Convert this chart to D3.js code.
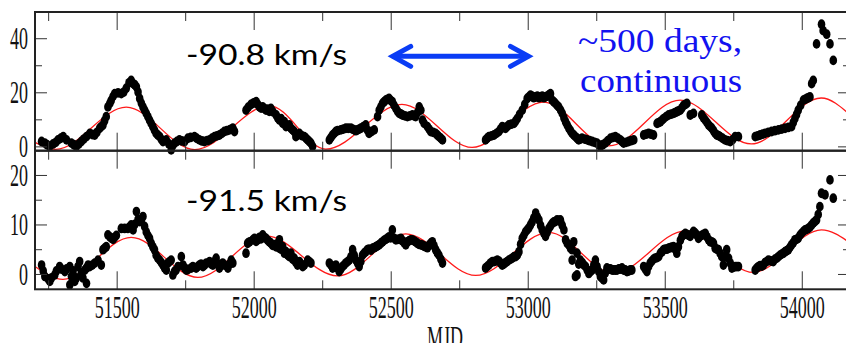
<!DOCTYPE html>
<html>
<head>
<meta charset="utf-8">
<script src="https://cdn.jsdelivr.net/npm/d3@7"></script>
<style>
  body { margin: 0; background: #fff; }
  svg { display: block; }
  .serif { font-family: "Liberation Serif", "Times New Roman", serif; }
</style>
</head>
<body>
<svg id="chart" width="846" height="343"></svg>
<script>
// tick values
var xMajor = [51500, 52000, 52500, 53000, 53500, 54000];
var xMinor = [51250, 51750, 52250, 52750, 53250, 53750];
var topMajor = [0, 20, 40], topMinor = [10, 30];
var botMajor = [0, 10, 20], botMinor = [5, 15];

// observed points [MJD, flux] for the -90.8 km/s feature
var topPoints = [
  [51226,1.8],[51238,1.2],[51256,0.0],[51268,0.9],[51286,2.4],[51305,3.6],[51317,2.4],[51335,1.2],[51353,0.0],[51371,1.8],
  [51390,3.6],[51402,4.8],[51420,4.2],[51438,6.7],[51450,7.9],[51462,11.0],[51468,14.6],[51475,15.9],[51493,19.5],[51517,19.5],
  [51526,20.1],[51553,24.4],[51560,23.2],[51572,22.0],[51578,20.1],[51584,17.7],[51596,14.6],[51608,12.2],[51620,9.7],[51632,7.3],
  [51644,4.8],[51657,3.6],[51669,1.8],[51681,2.4],[51699,-1.3],[51711,1.2],[51729,2.4],[51748,1.8],[51760,3.0],[51784,3.6],
  [51802,2.4],[51820,1.8],[51839,2.4],[51857,3.6],[51875,4.2],[51893,5.5],[51912,6.1],[51924,6.7],[51930,5.5],[51972,13.4],
  [51997,15.9],[52009,16.5],[52021,14.6],[52033,14.6],[52045,13.4],[52063,14.0],[52082,11.6],[52094,9.7],[52100,10.3],[52106,8.5],
  [52112,9.1],[52118,7.3],[52130,7.9],[52136,6.7],[52142,6.1],[52148,5.5],[52154,3.6],[52167,4.8],[52185,3.6],[52197,2.4],
  [52209,1.2],[52215,0.0],
  [51246,0.6],[51278,1.5],[51296,3.0],[51344,0.6],[51362,0.9],[51380,2.7],[51411,4.4],[51428,5.2],[51444,7.3],[51456,9.5],
  [51480,17.0],[51487,18.5],[51505,19.8],[51535,21.5],[51545,23.5],[51566,22.8],[51590,16.0],[51602,13.4],[51614,11.0],[51626,8.5],
  [51638,6.0],[51650,4.2],[51663,2.6],[51690,1.0],[51705,0.3],[51720,1.8],[51738,2.0],[51770,3.3],[51792,3.0],[51811,2.0],
  [51830,2.1],[51848,3.0],[51866,3.9],[51884,4.8],[51902,5.8],[51918,6.4],
  [51980,14.5],[51990,15.5],[52003,16.2],[52015,15.5],[52027,14.2],[52039,14.0],[52051,13.8],[52057,13.0],[52070,12.8],[52088,10.5],
  [52124,7.5],[52160,4.2],[52175,4.0],[52191,3.0],[52203,1.8],
  [52276,2.4],[52288,4.2],[52300,5.5],[52318,6.1],[52336,6.7],[52355,6.7],[52367,6.1],[52379,6.1],[52391,6.7],[52409,7.9],
  [52421,4.8],[52440,6.1],[52458,13.4],[52470,15.9],[52482,17.1],[52494,17.7],[52506,16.5],[52519,14.0],[52531,12.2],[52543,11.6],
  [52561,11.0],[52579,11.6],[52591,11.0],[52604,14.6],[52610,13.4],[52616,9.7],[52634,7.3],[52646,5.5],[52664,4.8],[52676,3.6],
  [52689,2.4],
  [52282,3.3],[52294,4.8],[52306,5.8],[52327,6.4],[52345,6.7],[52361,6.4],[52373,5.8],[52385,6.4],[52400,7.3],[52415,6.0],
  [52430,5.5],[52452,11.0],[52464,14.6],[52476,16.5],[52488,17.4],[52500,17.0],[52512,15.2],[52525,13.0],[52537,12.0],[52552,11.3],
  [52570,11.3],[52585,11.3],[52598,12.5],[52622,8.5],[52640,6.4],[52655,5.2],[52670,4.2],[52683,3.0],
  [52846,2.4],[52858,3.6],[52877,4.2],[52895,5.5],[52907,7.3],[52919,6.7],[52931,7.9],[52950,8.5],[52962,10.3],[52980,13.4],
  [52998,17.7],[53010,18.9],[53029,18.3],[53047,18.3],[53065,18.3],[53083,19.5],[53089,17.1],[53101,15.9],[53113,14.6],[53120,13.4],
  [53126,12.2],[53138,9.1],[53150,6.7],[53162,4.8],[53174,3.6],[53186,2.4],[53198,3.0],[53217,2.4],[53235,1.8],[53253,1.2],
  [53265,0.0],[53283,1.2],[53302,3.0],[53320,3.6],[53338,2.4],[53350,1.2],[53368,1.8],[53387,2.4],
  [52852,3.0],[52868,3.9],[52886,4.8],[52901,6.4],[52913,7.0],[52925,7.3],[52940,8.2],[52956,9.4],[52970,11.8],[52989,15.5],
  [53004,18.3],[53016,18.6],[53022,18.0],[53035,18.6],[53041,18.0],[53053,18.6],[53059,18.0],[53071,18.6],[53077,19.0],[53095,16.5],
  [53107,15.2],[53132,10.6],[53144,7.9],[53156,5.8],[53168,4.2],[53180,3.0],[53192,2.7],[53208,2.7],[53226,2.1],[53244,1.5],
  [53259,0.6],[53274,0.6],[53292,2.1],[53311,3.3],[53329,3.0],[53344,1.8],[53359,1.5],[53377,2.1],
  [53423,4.2],[53441,4.8],[53459,4.2],[53472,8.5],[53484,9.1],[53496,10.3],[53514,11.6],[53532,12.2],[53544,12.8],[53557,13.4],
  [53569,15.2],[53581,15.9],[53593,11.6],[53605,12.2],[53635,11.6],[53648,9.7],[53660,7.9],[53672,6.7],[53684,4.8],[53702,3.6],
  [53720,2.4],[53739,1.8],[53757,3.6],[53769,3.6],
  [53432,4.5],[53450,4.5],[53478,8.8],[53490,9.7],[53505,11.0],[53523,11.9],[53538,12.5],[53550,13.1],[53563,14.3],[53575,15.5],
  [53641,10.6],[53654,8.8],[53666,7.3],[53678,5.8],[53690,4.2],[53696,4.0],[53711,3.0],[53729,2.1],[53748,2.5],
  [53830,3.6],[53848,4.2],[53866,4.8],[53890,5.5],[53915,6.1],[53939,6.7],[53963,7.3],[53975,10.3],[53987,13.4],[54006,17.1],
  [54018,17.7],[54030,18.3],[54036,23.2],[54042,24.4],[54054,37.9],[54072,45.2],[54078,42.8],[54091,41.5],[54103,37.9],[54115,31.8],
  [53839,3.9],[53857,4.5],[53878,5.2],[53902,5.8],[53927,6.4],[53951,7.0],[53969,8.8],[53981,11.8],[53996,15.2],[54012,17.4],
  [54024,18.0]
];

// observed points for the -91.5 km/s feature
var botPoints = [
  [51226,1.8],[51238,-0.5],[51256,-1.5],[51274,-0.2],[51292,1.5],[51311,0.5],[51329,1.5],[51335,-0.5],[51329,-2.2],[51347,-1.5],
  [51365,2.5],[51371,0.2],[51390,-1.9],[51390,1.2],[51402,1.5],[51420,2.2],[51444,1.8],[51450,4.9],[51462,5.5],[51468,7.9],
  [51481,7.2],[51493,7.4],[51517,9.2],[51541,9.2],[51553,9.9],[51560,8.9],[51572,12.6],[51584,10.6],[51596,11.6],[51602,9.6],
  [51620,7.2],[51626,6.2],[51638,4.9],[51644,3.8],[51657,2.8],[51669,1.8],[51681,0.8],[51687,2.2],[51699,2.8],[51705,-0.2],
  [51717,0.8],[51736,3.5],[51742,1.8],[51754,0.8],[51772,1.2],[51790,1.2],[51802,1.8],[51821,1.8],[51839,2.5],[51851,1.8],
  [51863,3.2],[51875,1.2],[51887,2.2],[51906,1.2],[51918,2.8],[51924,2.2],
  [51232,0.6],[51250,-1.0],[51262,-0.8],[51280,0.6],[51298,1.0],[51317,1.0],[51341,0.6],[51353,-0.8],[51359,1.5],[51377,-0.8],
  [51384,0.8],[51396,1.8],[51411,1.8],[51432,2.8],[51456,5.2],[51475,7.5],[51487,7.0],[51499,7.8],[51529,9.2],[51547,9.5],
  [51566,10.0],[51578,11.0],[51590,10.8],[51608,8.5],[51614,7.8],[51632,5.5],[51650,3.2],[51663,2.3],[51675,1.2],[51693,2.5],
  [51711,0.5],[51724,1.5],[51748,1.2],[51760,0.9],[51778,1.5],[51796,1.5],[51808,2.0],[51815,1.5],[51827,2.2],[51845,2.0],
  [51857,2.5],[51869,2.0],[51881,1.8],[51893,1.8],[51912,2.0],
  [51972,4.2],[51978,6.2],[51997,6.9],[52015,6.9],[52033,7.9],[52045,7.2],[52057,6.5],[52075,5.9],[52094,6.9],[52094,5.2],
  [52106,5.5],[52112,4.2],[52118,4.5],[52130,3.5],[52136,4.2],[52148,2.8],[52148,3.2],[52160,1.8],[52167,2.5],[52179,1.5],
  [52197,2.8],[52209,2.2],
  [51985,6.5],[52003,7.2],[52009,6.6],[52021,7.4],[52027,7.1],[52039,7.4],[52051,6.8],[52063,6.2],[52069,5.8],[52082,5.5],
  [52088,6.2],[52100,5.0],[52124,3.8],[52142,3.0],[52154,2.3],[52173,2.0],[52185,1.8],[52203,2.5],
  [52276,2.2],[52288,1.2],[52300,1.8],[52312,0.5],[52330,1.8],[52349,2.8],[52361,4.9],[52373,2.8],[52385,1.5],[52403,4.2],
  [52415,4.9],[52434,5.2],[52446,5.5],[52458,5.9],[52470,6.5],[52488,7.2],[52506,8.9],[52519,6.9],[52537,7.2],[52555,5.9],
  [52573,6.9],[52591,6.5],[52610,5.9],[52628,5.5],[52652,6.5],[52664,4.9],[52676,3.8],[52689,2.2],
  [52282,1.8],[52294,1.5],[52306,1.2],[52318,1.0],[52324,1.5],[52336,2.2],[52343,2.5],[52355,3.5],[52367,3.8],[52379,2.2],
  [52391,2.5],[52397,3.8],[52409,4.5],[52421,5.0],[52428,4.8],[52440,5.3],[52452,5.7],[52464,6.2],[52476,6.8],[52482,7.0],
  [52494,7.5],[52500,7.3],[52513,7.2],[52525,7.0],[52531,7.0],[52543,6.7],[52549,6.3],[52561,6.5],[52567,6.7],[52579,6.9],
  [52585,6.7],[52597,6.2],[52603,6.0],[52616,5.8],[52622,5.6],[52634,5.3],[52640,5.8],[52646,6.2],[52658,5.7],[52670,4.3],
  [52683,3.0],
  [52846,1.2],[52858,1.8],[52871,2.5],[52889,2.8],[52907,1.8],[52925,2.5],[52944,3.2],[52962,3.8],[52980,7.2],[52998,8.9],
  [53010,9.9],[53029,12.3],[53041,10.9],[53053,8.9],[53065,7.6],[53077,9.2],[53089,10.2],[53107,10.9],[53119,10.9],[53120,10.6],
  [53132,8.9],[53138,6.9],[53150,5.9],[53162,4.9],[53162,2.8],[53168,6.5],[53174,-0.5],[53180,4.2],[53180,-0.2],[53192,2.8],
  [53211,1.5],[53223,0.1],[53235,0.8],[53247,2.8],[53253,1.5],[53265,-0.5],[53277,-1.2],[53289,1.2],[53308,0.8],[53326,0.8],
  [53344,1.2],[53362,0.5],[53380,0.8],
  [52852,1.5],[52864,2.2],[52877,2.5],[52883,2.6],[52895,2.6],[52901,2.2],[52913,2.0],[52919,2.3],[52931,2.8],[52938,3.0],
  [52950,3.5],[52956,3.5],[52968,4.5],[52974,6.0],[52986,7.8],[52992,8.5],[53004,9.3],[53016,10.5],[53022,11.3],[53035,11.5],
  [53047,9.8],[53059,8.2],[53071,8.4],[53083,9.7],[53095,10.5],[53101,10.6],[53113,10.8],[53126,9.8],[53144,6.2],[53156,5.2],
  [53186,2.0],[53199,2.3],[53205,1.8],[53217,0.8],[53229,0.5],[53241,1.8],[53259,0.5],[53271,-0.8],[53283,0.2],[53295,1.0],
  [53302,1.0],[53314,0.8],[53320,0.8],[53332,1.0],[53338,1.0],[53350,0.8],[53356,0.8],[53368,0.6],[53374,0.8],
  [53423,1.5],[53435,0.5],[53447,2.2],[53465,3.2],[53478,3.5],[53496,4.9],[53514,5.2],[53532,5.5],[53544,4.2],[53563,7.6],
  [53575,8.2],[53593,7.6],[53605,8.6],[53623,7.2],[53648,8.2],[53660,6.9],[53678,6.2],[53684,5.2],[53696,4.9],[53708,3.5],
  [53714,1.8],[53726,4.9],[53739,2.2],[53745,1.2],[53757,1.5],[53769,1.5],
  [53429,1.0],[53441,1.5],[53453,2.6],[53459,3.0],[53472,3.3],[53484,4.2],[53490,4.5],[53502,5.0],[53508,5.0],[53520,5.3],
  [53526,5.4],[53538,5.0],[53550,5.5],[53557,6.8],[53569,7.9],[53581,8.0],[53587,7.8],[53599,8.1],[53611,8.3],[53617,7.9],
  [53629,7.6],[53635,7.8],[53641,8.0],[53654,7.5],[53666,6.5],[53672,6.5],[53690,5.0],[53702,4.2],[53720,3.5],[53733,3.2],
  [53751,1.4],[53763,1.5],
  [53830,0.8],[53842,1.5],[53860,1.8],[53878,2.8],[53896,2.5],[53915,3.5],[53933,4.2],[53951,4.9],[53963,5.9],[53975,6.9],
  [53987,7.2],[54006,8.6],[54024,9.2],[54036,9.9],[54054,10.9],[54066,13.6],[54072,16.3],[54085,16.0],[54103,19.0],[54115,15.3],
  [53836,1.2],[53848,1.7],[53854,1.6],[53866,2.3],[53872,2.5],[53884,2.7],[53890,2.6],[53902,3.0],[53909,3.2],[53921,3.8],
  [53927,4.0],[53939,4.5],[53945,4.7],[53957,5.4],[53969,6.3],[53981,7.0],[53993,7.8],[53999,8.2],[54012,8.9],[54018,9.0],
  [54030,9.5],[54042,10.3],[54048,10.6],[54060,12.0]
];

// red model curves, read at turning points
var topFitMJD = [51202, 51278, 51535, 51785, 52057, 52263, 52541, 52797, 53058, 53296, 53556, 53816, 54071, 54176];
var topFitVal = [1.5, -1.1, 14.5, -1.2, 15.1, -1.0, 15.5, -0.4, 16.4, 0.2, 17.1, 0.9, 17.9, 11.7];
var botFitMJD = [51202, 51304, 51553, 51796, 52045, 52306, 52555, 52810, 53077, 53313, 53575, 53823, 54072, 54176];
var botFitVal = [1.5, -1.1, 7.4, -0.7, 7.7, -0.4, 8.1, -0.3, 8.4, 0.1, 8.7, 0.3, 8.9, 6.3];

var svg = d3.select("#chart");
svg.append("rect").attr("width", 846).attr("height", 343).attr("fill", "#fff");

var x = d3.scaleLinear().domain([51202, 54176]).range([35, 850]);
var yTop = d3.scaleLinear().domain([-1.6, 49.7]).range([150.7, 12]);
var yBot = d3.scaleLinear().domain([-3.1, 24.9]).range([289.3, 150.7]);

var STRETCH = "scale(1,1.7)";

function panel(y, points, fitMJD, fitVal, major, minor, showX) {
  var g = svg.append("g");
  var y0 = y.range()[0], y1 = y.range()[1];

  var fit = fitMJD.map(function(m, i){ return [m, fitVal[i]]; });
  g.append("path")
    .datum(fit)
    .attr("fill", "none")
    .attr("stroke", "#ff1a1a")
    .attr("stroke-width", 1.3)
    .attr("d", d3.line()
      .x(function(d){ return x(d[0]); })
      .y(function(d){ return y(d[1]); })
      .curve(d3.curveMonotoneX));

  g.selectAll("ellipse.pt").data(points)
    .enter().append("ellipse")
    .classed("pt", true)
    .attr("cx", function(d){ return x(d[0]); })
    .attr("cy", function(d){ return y(d[1]); })
    .attr("rx", 3.8)
    .attr("ry", 4.9)
    .attr("fill", "#000");

  var ax = svg.append("g").attr("stroke-width", 1);
  function tidy(sel){
    sel.select(".domain").remove();
    sel.selectAll("line").attr("stroke", "#333");
    sel.attr("font-family", null).attr("font-size", 18);
    sel.selectAll("text").classed("serif", true);
  }
  ax.append("g").attr("transform", "translate(0," + y0 + ")")
    .call(d3.axisBottom(x).tickValues(xMajor).tickSize(-18)
      .tickFormat(showX ? d3.format("d") : function(){ return ""; }))
    .call(tidy)
    .selectAll("text").attr("y", 17).attr("dy", null)
      .attr("transform", STRETCH).attr("fill", "#111");
  ax.append("g").attr("transform", "translate(0," + y0 + ")")
    .call(d3.axisBottom(x).tickValues(xMinor).tickSize(-9).tickFormat(""))
    .call(tidy);
  ax.append("g").attr("transform", "translate(0," + y1 + ")")
    .call(d3.axisTop(x).tickValues(xMajor).tickSize(-18).tickFormat(""))
    .call(tidy);
  ax.append("g").attr("transform", "translate(0," + y1 + ")")
    .call(d3.axisTop(x).tickValues(xMinor).tickSize(-9).tickFormat(""))
    .call(tidy);

  ax.append("g").attr("transform", "translate(35,0)")
    .call(d3.axisLeft(y).tickValues(major).tickSize(-12).tickPadding(7))
    .call(tidy)
    .selectAll("text").attr("dy", "0.33em")
      .attr("transform", STRETCH).attr("fill", "#111");
  ax.append("g").attr("transform", "translate(35,0)")
    .call(d3.axisLeft(y).tickValues(minor).tickSize(-7).tickFormat(""))
    .call(tidy);
  ax.append("g").attr("transform", "translate(850,0)")
    .call(d3.axisRight(y).tickValues(major).tickSize(-12).tickFormat(""))
    .call(tidy);
  ax.append("g").attr("transform", "translate(850,0)")
    .call(d3.axisRight(y).tickValues(minor).tickSize(-7).tickFormat(""))
    .call(tidy);

  svg.append("rect")
    .attr("x", 35).attr("y", y1)
    .attr("width", 815).attr("height", y0 - y1)
    .attr("fill", "none").attr("stroke", "#222").attr("stroke-width", 2);
}

panel(yTop, topPoints, topFitMJD, topFitVal, topMajor, topMinor, false);
panel(yBot, botPoints, botFitMJD, botFitVal, botMajor, botMinor, true);

// stray "0" of the panel above, cut by the crop
svg.append("clipPath").attr("id", "cut").append("rect")
  .attr("x", 0).attr("y", 10).attr("width", 35).attr("height", 20);
svg.append("text").attr("clip-path", "url(#cut)").classed("serif", true)
  .attr("transform", "translate(29," + (yTop(50) + 9.5) + ") " + STRETCH)
  .attr("text-anchor", "end").attr("font-size", 18)
  .attr("fill", "#111").text("0");

// x axis title
svg.append("text").classed("serif", true)
  .attr("transform", "translate(445,348) " + STRETCH)
  .attr("text-anchor", "middle").attr("font-size", 18)
  .attr("fill", "#111").text("MJD");

// annotations
var sans = "Lato,'Open Sans',sans-serif";
svg.append("text").attr("x", 186).attr("y", 65)
  .attr("font-family", sans).attr("font-size", 28)
  .attr("textLength", 161).attr("lengthAdjust", "spacingAndGlyphs")
  .attr("fill", "#000").text("-90.8 km/s");
svg.append("text").attr("x", 186).attr("y", 211)
  .attr("font-family", sans).attr("font-size", 28)
  .attr("textLength", 161).attr("lengthAdjust", "spacingAndGlyphs")
  .attr("fill", "#000").text("-91.5 km/s");

svg.append("text").classed("serif", true).attr("x", 578).attr("y", 52)
  .attr("font-size", 33)
  .attr("textLength", 164).attr("lengthAdjust", "spacingAndGlyphs")
  .attr("fill", "#1212f0").text("~500 days,");
svg.append("text").classed("serif", true).attr("x", 580).attr("y", 92)
  .attr("font-size", 33)
  .attr("textLength", 162).attr("lengthAdjust", "spacingAndGlyphs")
  .attr("fill", "#1212f0").text("continuous");

// double arrow spanning ~500 days
var arrowMJD = [52500, 53010], arrowY = yTop(33.3);
var ax0 = x(arrowMJD[0]), ax1 = x(arrowMJD[1]);
var arrow = svg.append("g").attr("stroke", "#0a3cf5").attr("stroke-width", 5)
  .attr("fill", "none").attr("stroke-linecap", "round").attr("stroke-linejoin", "miter");
arrow.append("line").attr("x1", ax0 + 3).attr("x2", ax1 - 3).attr("y1", arrowY).attr("y2", arrowY);
arrow.append("path").attr("d", "M" + (ax0 + 20) + "," + (arrowY - 10) + "L" + (ax0 + 2) + "," + arrowY + "L" + (ax0 + 20) + "," + (arrowY + 10));
arrow.append("path").attr("d", "M" + (ax1 - 20) + "," + (arrowY - 10) + "L" + (ax1 - 2) + "," + arrowY + "L" + (ax1 - 20) + "," + (arrowY + 10));
</script>
</body>
</html>
